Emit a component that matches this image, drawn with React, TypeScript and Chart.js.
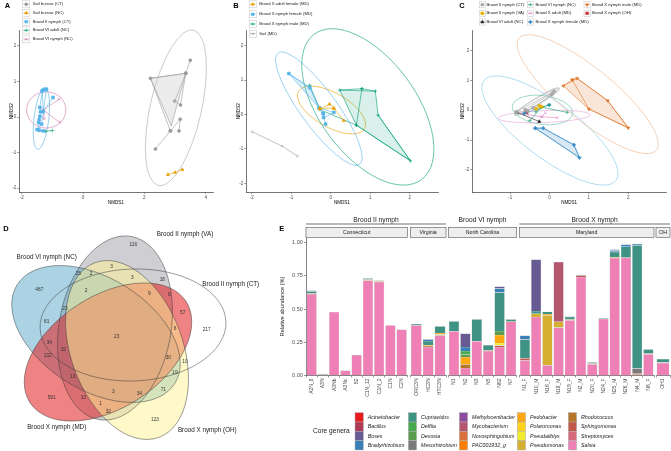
import React, { useEffect, useRef } from "react";
import { Chart, registerables } from "chart.js";
import { drawPoint } from "chart.js/helpers";

Chart.register(...registerables);

type P = [number, number];
const FONT = "'Liberation Sans', Arial, Helvetica, sans-serif";
const fnt = (size: number, style = "") => `${style ? style + " " : ""}${size}px ${FONT}`;
Chart.defaults.font.family = FONT;

// ================= Panel A data (NMDS) =================
const A_SOIL_CT: P[][] = [
  [[2.36, -0.9], [2.85, -0.39], [3.17, -0.06], [3.13, -0.39]],
  [[2.85, -0.39], [2.2, 1.09], [3.35, 1.23], [3.5, 1.6]],
  [[3.35, 1.23], [2.99, 0.45], [3.18, 0.34], [3.35, 1.23]],
];
const A_SOIL_CT_HULL: P[] = [[2.2, 1.09], [3.35, 1.23], [2.88, -0.25]];
const A_SOIL_CT_ELL = [3.03, 0.26, 2.26, 0.83, 74.8];
const A_SOIL_NC: P[][] = [[[2.77, -1.62], [3.0, -1.56], [3.24, -1.48]]];
const A_BII_CT: P[][] = [
  [[-1.27, 0.78], [-1.2, 0.78], [-1.33, 0.74], [-1.3, 0.15], [-0.98, 0.55]],
  [[-1.33, 0.74], [-1.41, 0.27], [-1.39, 0.15], [-1.41, 0.02], [-1.43, -0.08], [-1.45, -0.16], [-1.43, -0.37], [-1.3, -0.39]],
  [[-1.2, 0.78], [-1.35, -0.2], [-1.5, -0.35]],
];
const A_BII_CT_ELL = [-1.36, -0.05, 0.87, 0.24, 82];
const A_BVI_ADULT: P[][] = [[[-1.45, -0.38], [-1.22, -0.4], [-1.0, -0.38]]];
const A_BVI_NYMPH: P[][] = [
  [[-0.78, 0.5], [-1.3, 0.2], [-0.76, -0.15]],
  [[-1.3, 0.2], [-1.27, -0.05]],
];
const A_BVI_NYMPH_ELL = [-1.2, 0.2, 0.64, 0.51, 0];

// ================= Panel B data =================
const B_ADULT_F: P[][] = [
  [[-0.28, 0.16], [-0.03, 0.3], [0.08, 0.18], [0.33, -0.18]],
  [[0.08, 0.18], [-0.28, 0.18]],
];
const B_ADULT_F_ELL = [0.02, 0.13, 1.0, 0.48, -35];
const B_NYMPH_F: P[][] = [
  [[-1.06, 1.19], [-0.53, 0.78], [-0.29, 0.19], [-0.19, 0.03], [-0.13, -0.28]],
  [[-0.19, 0.03], [-0.18, -0.09], [0.08, 0.06], [-0.29, 0.19]],
];
const B_NYMPH_F_HULL: P[] = [[-1.06, 1.19], [-0.53, 0.78], [-0.29, 0.19]];
const B_NYMPH_F_ELL = [-0.3, 0.17, 1.92, 0.48, -58];
const B_NYMPH_M: P[][] = [
  [[0.23, 0.71], [0.79, 0.75], [1.13, 0.68]],
  [[0.79, 0.75], [0.65, -0.31], [2.02, -1.35], [1.2, -0.02]],
  [[-0.53, 0.85], [-0.27, 0.14], [0.65, -0.31]],
];
const B_NYMPH_M_HULL: P[] = [[0.23, 0.71], [1.13, 0.68], [1.2, -0.02], [2.02, -1.35], [0.65, -0.31]];
const B_NYMPH_M_ELL = [0.94, 0.22, 2.52, 1.27, -60];
const B_SOIL: P[][] = [[[-1.99, -0.5], [-1.23, -0.92], [-0.84, -1.21]]];

// ================= Panel C data =================
const C_BII_CT: P[][] = [
  [[-0.85, -0.06], [0.12, 0.64]],
  [[-0.62, 0.02], [0.08, 0.58]],
  [[-0.42, 0.08], [0.05, 0.52]],
  [[-0.85, -0.06], [-0.55, -0.02]],
];
const C_BII_CT_ELL = [-0.32, 0.29, 0.72, 0.1, 38.5];
const C_BII_VA: P[][] = [[[-0.34, 0.05], [-0.26, 0.15], [-0.2, 0.12]]];
const C_BVI_ADULT: P[][] = [[[-0.83, -0.07], [-0.26, -0.38]]];
const C_BVI_NYMPH: P[][] = [
  [[-0.5, -0.35], [-0.2, 0.1], [0.0, 0.18]],
  [[-0.2, 0.1], [0.45, -0.07]],
  [[-0.2, 0.1], [-0.35, -0.05]],
];
const C_BVI_NYMPH_ELL = [-0.18, 0.01, 0.78, 0.48, -12];
const C_BX_ADULT: P[][] = [
  [[-0.55, -0.15], [-0.2, -0.22], [0.2, -0.25]],
  [[-0.2, -0.22], [-0.1, -0.08]],
];
const C_BX_ADULT_ELL = [-0.13, -0.21, 1.17, 0.2, 3];
const C_BX_NYMPH_F: P[][] = [
  [[-0.64, -0.11], [-0.01, 0.18]],
  [[-0.36, -0.6], [-0.16, -0.6], [0.62, -1.16], [0.76, -1.59], [-0.36, -0.6]],
];
const C_BX_NYMPH_F_HULL: P[] = [[-0.36, -0.6], [-0.16, -0.6], [0.62, -1.16], [0.76, -1.59]];
const C_BX_NYMPH_F_ELL = [0.01, -0.68, 2.38, 0.82, -47];
const C_BX_NYMPH_M: P[][] = [
  [[0.35, 0.82], [0.58, 1.02], [0.7, 1.07], [1.48, 0.32], [2.0, -0.59], [1.0, 0.04], [0.58, 1.02]],
];
const C_BX_NYMPH_M_HULL: P[] = [[0.35, 0.82], [0.7, 1.07], [1.48, 0.32], [2.0, -0.59], [1.0, 0.04]];
const C_BX_NYMPH_M_ELL = [0.97, 0.54, 2.57, 0.76, -48.6];
const C_BX_OH: P[][] = [[[-0.58, -0.08]]];

// ================= Panel D data (Venn) =================
const VENN_SETS = ["Brood II nymph (CT)", "Brood II nymph (VA)", "Brood VI nymph (NC)", "Brood X nymph (MD)", "Brood X nymph (OH)"];
const VENN_COUNTS = [116, 487, 25, 2, 3, 3, 18, 2, 9, 8, 57, 217, 23, 81, 23, 6, 34, 32, 132, 30, 10, 19, 13, 71, 591, 13, 3, 34, 1, 32, 123];

// ================= Panel E data =================
const SAMPLES = ["A2N_8", "A3N", "A3Nb", "A3Nc", "B2", "C1N_12", "C1N_2", "C1N", "C2N", "ORC3N", "HC3N", "HTC3N", "N1", "N2", "N3", "N5", "N62", "N7", "N1_F", "N10_M", "N16_F", "N18_M", "N19_F", "N2_M", "N20_F", "N24_F", "N25_M", "N26_M", "N4_M", "N6_F", "OH1"];
const FACET_NAMES = ["Connecticut", "Virginia", "North Carolina", "Maryland", "OH"];
const FACET_SIZES = [9, 3, 6, 12, 1];
const BROOD_NAMES = ["Brood II nymph", "Brood VI nymph", "Brood X nymph"];
const BROOD_FACETS = [[0, 1], [2], [3, 4]];
const GENERA = ["Acinetobacter", "Bacillus", "Boses", "Bradyrhizobium", "Cupriavidus", "Delftia", "Devosia", "Mesorhizobium", "Methylocenibacter", "Mycobacterium", "Novosphingobium", "PAC001932_g", "Pedobacter", "Polaromonas", "Pseudaliblys", "Pseudomonas", "Rhodococcus", "Sphingomonas", "Streptomyces", "Salsia"];

const ACINETOBACTER = [0, 0, 0, 0, 0, 0, 0, 0, 0, 0, 0, 0, 0, 0, 0, 0, 0, 0, 0, 0, 0, 0, 0, 0, 0, 0, 0, 0, 0, 0, 0];
const BACILLUS = [0, 0, 0, 0, 0, 0, 0, 0, 0, 0, 0, 0, 0, 0, 0, 0, 0, 0, 0, 0, 0, 0, 0, 0, 0, 0, 0, 0, 0, 0, 0];
const BOSES = [0, 0, 0, 0, 0, 0, 0, 0, 0, 0, 0, 0, 0, 0.1, 0, 0, 0.015, 0, 0, 0.387, 0, 0, 0, 0, 0, 0, 0.006, 0, 0, 0, 0];
const BRADYRHIZOBIUM = [0.005, 0, 0, 0, 0, 0, 0, 0, 0, 0, 0.012, 0.005, 0, 0.03, 0, 0, 0.03, 0, 0.03, 0, 0, 0, 0.004, 0, 0.003, 0, 0.012, 0.017, 0.01, 0, 0];
const CUPRIAVIDUS = [0.016, 0, 0, 0, 0, 0.01, 0.004, 0, 0, 0.01, 0.03, 0.05, 0.075, 0, 0.165, 0.04, 0.29, 0.012, 0.14, 0.02, 0.017, 0, 0.018, 0.004, 0.008, 0.006, 0.04, 0.078, 0.927, 0.031, 0.026];
const DELFTIA = [0, 0, 0, 0, 0, 0, 0, 0, 0, 0, 0, 0, 0, 0.025, 0, 0, 0, 0, 0, 0, 0, 0, 0, 0, 0, 0, 0, 0, 0, 0, 0];
const DEVOSIA = [0, 0.006, 0, 0, 0, 0, 0, 0, 0, 0, 0, 0, 0, 0.02, 0, 0, 0.03, 0.005, 0, 0, 0, 0, 0, 0, 0, 0, 0, 0, 0, 0, 0.004];
const MESORHIZOBIUM = [0, 0, 0, 0, 0, 0, 0, 0, 0, 0, 0, 0, 0, 0, 0, 0, 0, 0, 0, 0, 0, 0, 0, 0, 0, 0, 0, 0.006, 0.04, 0, 0];
const METHYLOCENIBACTER = [0, 0, 0, 0, 0, 0, 0, 0, 0, 0, 0, 0, 0, 0, 0, 0, 0, 0, 0, 0, 0, 0, 0, 0, 0, 0, 0, 0, 0, 0, 0];
const MYCOBACTERIUM = [0, 0, 0, 0, 0, 0, 0, 0, 0, 0, 0, 0, 0, 0, 0, 0, 0, 0, 0, 0, 0, 0.45, 0, 0, 0, 0, 0, 0, 0, 0, 0];
const NOVOSPHINGOBIUM = [0, 0, 0, 0, 0, 0, 0, 0, 0, 0, 0, 0, 0, 0, 0, 0, 0, 0, 0, 0, 0, 0, 0, 0, 0, 0, 0, 0, 0.008, 0, 0];
const PAC001932 = [0, 0, 0, 0, 0, 0, 0, 0, 0, 0, 0, 0, 0, 0, 0, 0, 0, 0, 0, 0, 0, 0, 0, 0, 0, 0, 0, 0, 0, 0, 0];
const PEDOBACTER = [0, 0, 0, 0, 0, 0, 0.005, 0, 0, 0, 0.007, 0.012, 0, 0.055, 0, 0, 0.06, 0, 0, 0, 0.01, 0, 0, 0, 0, 0, 0, 0, 0, 0, 0];
const POLAROMONAS = [0, 0, 0, 0, 0, 0, 0, 0, 0, 0, 0, 0, 0, 0, 0, 0, 0, 0, 0, 0, 0, 0, 0, 0, 0, 0, 0, 0, 0, 0, 0];
const PSEUDALIBLYS = [0, 0, 0, 0, 0, 0, 0, 0, 0, 0, 0, 0, 0, 0, 0, 0, 0.02, 0, 0, 0, 0, 0, 0, 0, 0, 0, 0, 0, 0, 0, 0];
const PSEUDOMONAS = [0.006, 0, 0, 0, 0, 0.006, 0, 0, 0, 0, 0, 0, 0, 0, 0, 0.004, 0, 0, 0, 0.025, 0.375, 0.045, 0.006, 0, 0, 0, 0.006, 0, 0, 0, 0];
const RHODOCOCCUS = [0, 0, 0, 0, 0, 0, 0.004, 0, 0, 0, 0.008, 0.008, 0, 0.028, 0, 0, 0, 0, 0, 0, 0, 0, 0, 0, 0, 0, 0, 0, 0, 0, 0];
const SPHINGOMONAS = [0, 0, 0, 0, 0, 0, 0, 0, 0, 0, 0, 0, 0, 0, 0, 0, 0.01, 0, 0.015, 0, 0, 0, 0, 0.012, 0.008, 0, 0, 0, 0, 0.006, 0];
const STREPTOMYCES = [0, 0, 0, 0, 0, 0, 0, 0, 0, 0, 0, 0, 0, 0, 0, 0, 0, 0, 0, 0, 0, 0, 0, 0, 0, 0, 0, 0, 0, 0, 0];
const SALSIA = [0.612, 0.005, 0.478, 0.037, 0.155, 0.715, 0.703, 0.378, 0.345, 0.378, 0.215, 0.3, 0.333, 0.057, 0.258, 0.185, 0.215, 0.405, 0.115, 0.44, 0.078, 0.36, 0.416, 0.741, 0.083, 0.425, 0.884, 0.884, 0.005, 0.16, 0.095];

const GENUS_VALUES = [ACINETOBACTER, BACILLUS, BOSES, BRADYRHIZOBIUM, CUPRIAVIDUS, DELFTIA, DEVOSIA, MESORHIZOBIUM, METHYLOCENIBACTER, MYCOBACTERIUM, NOVOSPHINGOBIUM, PAC001932, PEDOBACTER, POLAROMONAS, PSEUDALIBLYS, PSEUDOMONAS, RHODOCOCCUS, SPHINGOMONAS, STREPTOMYCES, SALSIA];

// ================= styles & layout =================
const GENUS_COLORS = ["#E41A1C", "#AE3A55", "#685A92", "#3A80B8", "#3F9384", "#47A94B", "#5B9B4E", "#7A7A7A", "#8E4C9C", "#B5566F", "#D9703C", "#FF7F00", "#FFA812", "#FFD21C", "#F2EC30", "#D5B030", "#B57628", "#C0594A", "#D8687C", "#EE80B5"];

const A_GROUPS = [
  { label: "Soil burrow (CT)", color: "#999999", shape: "circle", r: 1.5, paths: A_SOIL_CT, hull: A_SOIL_CT_HULL, hullFill: "rgba(200,200,200,0.35)", ell: A_SOIL_CT_ELL, ellColor: "#a8a8a8" },
  { label: "Soil burrow (NC)", color: "#E69F00", shape: "triangle", r: 1.8, paths: A_SOIL_NC },
  { label: "Brood II nymph (CT)", color: "#56B4E9", shape: "rect", r: 2, paths: A_BII_CT, ell: A_BII_CT_ELL, ellColor: "#56B4E9" },
  { label: "Brood VI adult (NC)", color: "#009E73", shape: "cross", r: 1.8, paths: A_BVI_ADULT },
  { label: "Brood VI nymph (NC)", color: "#CC79A7", shape: "crossRot", r: 1.8, paths: A_BVI_NYMPH, ell: A_BVI_NYMPH_ELL, ellColor: "#CC79A7" },
];
const B_GROUPS = [
  { label: "Brood X adult female (MD)", color: "#E69F00", shape: "triangle", r: 1.8, paths: B_ADULT_F, ell: B_ADULT_F_ELL, ellColor: "#E69F00" },
  { label: "Brood X nymph female (MD)", color: "#56B4E9", shape: "rect", r: 2, paths: B_NYMPH_F, hull: B_NYMPH_F_HULL, hullFill: "rgba(86,180,233,0.22)", ell: B_NYMPH_F_ELL, ellColor: "#56B4E9" },
  { label: "Brood X nymph male (MD)", color: "#009E73", shape: "cross", r: 1.8, paths: B_NYMPH_M, hull: B_NYMPH_M_HULL, hullFill: "rgba(0,158,115,0.15)", ell: B_NYMPH_M_ELL, ellColor: "#009E73" },
  { label: "Soil (MD)", color: "#999999", shape: "crossRot", r: 1.6, paths: B_SOIL },
];
const C_GROUPS = [
  { label: "Brood II nymph (CT)", color: "#A8A8A8", shape: "rect", r: 1.8, paths: C_BII_CT, ell: C_BII_CT_ELL, ellColor: "#cccccc", ellWidth: 1.4 },
  { label: "Brood II nymph (VA)", color: "#E6B400", shape: "circle", r: 1.6, paths: C_BII_VA },
  { label: "Brood VI adult (NC)", color: "#222222", shape: "triangle", r: 1.8, paths: C_BVI_ADULT },
  { label: "Brood VI nymph (NC)", color: "#1B9E77", shape: "cross", r: 1.8, paths: C_BVI_NYMPH, ell: C_BVI_NYMPH_ELL, ellColor: "#5cbf9c" },
  { label: "Brood X adult (MD)", color: "#E07CC6", shape: "crossRot", r: 1.8, paths: C_BX_ADULT, ell: C_BX_ADULT_ELL, ellColor: "#E8A2D8" },
  { label: "Brood X nymph female (MD)", color: "#3A8DCA", shape: "rectRot", r: 1.8, paths: C_BX_NYMPH_F, hull: C_BX_NYMPH_F_HULL, hullFill: "rgba(58,141,202,0.2)", ell: C_BX_NYMPH_F_ELL, ellColor: "#7EC2E6" },
  { label: "Brood X nymph male (MD)", color: "#E0772C", shape: "triangle", rot: 180, r: 1.8, paths: C_BX_NYMPH_M, hull: C_BX_NYMPH_M_HULL, hullFill: "rgba(224,119,44,0.18)", ell: C_BX_NYMPH_M_ELL, ellColor: "#F0B285" },
  { label: "Brood X nymph (OH)", color: "#C43A3A", shape: "rect", r: 1.8, paths: C_BX_OH },
];

const PANEL_A = {
  box: [0, 0, 225, 215], area: [19, 30, 213, 192], xr: [-2.09, 4.24], yr: [-2.11, 2.45],
  xticks: [-2, 0, 2, 4], yticks: [-2, -1, 0, 1, 2], yTitleX: 12, xTitleY: 203,
  groups: A_GROUPS, letter: ["A", 4.7, 6],
  legend: { cols: [{ keyX: 22.7, textX: 32.7, items: [0, 1, 2, 3, 4] }], rows: [4.3, 13, 21.7, 30.3, 39.3], key: 7 },
};
const PANEL_B = {
  box: [220, 0, 225, 215], area: [246, 30, 438, 192], xr: [-2.144, 2.716], yr: [-2.253, 2.456],
  xticks: [-2, -1, 0, 1, 2], yticks: [-2, -1, 0, 1, 2], yTitleX: 239, xTitleY: 202.5,
  groups: B_GROUPS, letter: ["B", 233.3, 5.5],
  legend: { cols: [{ keyX: 249.3, textX: 259.3, items: [0, 1, 2, 3] }], rows: [4.3, 14.3, 24, 33.7], key: 7 },
};
const PANEL_C = {
  box: [440, 0, 231, 215], area: [472, 30, 669, 192.3], xr: [-1.97, 2.97], yr: [-2.75, 2.69],
  xticks: [-1, 0, 1, 2], yticks: [-2, -1, 0, 1, 2], yTitleX: 462.7, xTitleY: 202.3,
  groups: C_GROUPS, letter: ["C", 459.3, 6],
  legend: {
    cols: [
      { keyX: 479.3, textX: 486.5, items: [0, 1, 2] },
      { keyX: 527.3, textX: 535.5, items: [3, 4, 5] },
      { keyX: 584, textX: 592, items: [6, 7] },
    ], rows: [4.7, 13.3, 22], key: 6.2,
  },
};

// Venn layout (page coordinates): centre x, centre y, semi-major, semi-minor, rotation
const VENN_ELLIPSES = [
  [133, 325, 93, 56, -2],
  [115, 328, 93, 56, -80],
  [96, 334, 93, 56, -148],
  [108, 352, 93, 56, 147],
  [127, 350, 93, 56, 70],
];
const VENN_FILLS = ["rgba(255,255,255,0)", "rgba(160,160,168,0.5)", "rgba(87,167,199,0.5)", "rgba(227,40,40,0.58)", "rgba(255,243,150,0.5)"];
const VENN_COUNT_POS = [[133.3, 245], [39.3, 290], [78.3, 273.3], [91, 274], [111.7, 266.7], [132.3, 277.3], [162.3, 280], [86, 290.7], [149.3, 293.3], [169.3, 294.3], [182.7, 312.7], [206.7, 330], [65, 308.3], [46.7, 321.7], [116.7, 336.7], [175, 328.3], [49.3, 342.3], [63.3, 350], [47.7, 356], [168.3, 357.7], [185, 361.7], [175, 372.3], [72.7, 376.7], [163.3, 389.3], [51.7, 397.7], [83.3, 397.7], [113.3, 391.7], [139.3, 393.3], [100.7, 404], [108.3, 411.7], [155, 420]];
const VENN_LABEL_POS = [[230.7, 284], [185, 234], [46.7, 257.7], [56.7, 427.7], [207.3, 430.7]];

const FACET_X = [[306, 407.3], [410.3, 446], [448.3, 516.7], [519.3, 654], [656, 670]];
const E_TOP = 237.5, E_BOTTOM = 375.5, E_YMAX = 1.0376;

// ================= helpers =================
function drawKey(ctx: CanvasRenderingContext2D, x: number, y: number, k: number, g: any) {
  ctx.save();
  ctx.strokeStyle = "#c4c4c4"; ctx.lineWidth = 0.5;
  ctx.strokeRect(x, y, k, k);
  ctx.strokeStyle = g.color; ctx.lineWidth = 0.6;
  ctx.beginPath(); ctx.moveTo(x + 0.7, y + k / 2); ctx.lineTo(x + k - 0.7, y + k / 2); ctx.stroke();
  ctx.fillStyle = g.color;
  drawPoint(ctx, { pointStyle: g.shape, rotation: g.rot || 0, radius: Math.min(g.r, 1.8), borderWidth: 0.6 } as any, x + k / 2, y + k / 2);
  ctx.restore();
}

function ellipsePath(chart: any, e: number[]) {
  const ctx = chart.ctx;
  const xs = chart.scales.x, ys = chart.scales.y;
  const x0 = xs.getPixelForValue(0), y0 = ys.getPixelForValue(0);
  const kx = xs.getPixelForValue(1) - x0, ky = ys.getPixelForValue(1) - y0;
  ctx.save();
  ctx.translate(x0, y0); ctx.scale(kx, ky);
  ctx.beginPath();
  ctx.ellipse(e[0], e[1], e[2], e[3], (e[4] * Math.PI) / 180, 0, Math.PI * 2);
  ctx.restore();
}

const toXY = (p: P) => ({ x: p[0], y: p[1] });

function scatterConfig(spec: any) {
  const [bx, by, bw, bh] = spec.box;
  const [al, at, ar, ab] = spec.area;
  const datasets: any[] = [];
  spec.groups.forEach((g: any) => {
    if (g.hull) {
      datasets.push({
        data: [...g.hull, g.hull[0]].map(toXY), showLine: true, fill: "shape",
        backgroundColor: g.hullFill, borderColor: g.color, borderWidth: 0.6, pointRadius: 0,
      });
    }
    g.paths.forEach((path: P[]) => {
      datasets.push({
        data: path.map(toXY), showLine: true, fill: false, borderColor: g.color, borderWidth: 0.6,
        pointStyle: g.shape, rotation: g.rot || 0, pointRadius: g.r,
        pointBackgroundColor: g.color, pointBorderColor: g.color, pointBorderWidth: 0.6,
      });
    });
  });
  const axisCommon = {
    grid: { display: true, drawOnChartArea: false, drawTicks: true, tickLength: 1.8, color: "#333", lineWidth: 0.5 },
    border: { display: true, color: "#1a1a1a", width: 0.6 },
  };
  const plugin = {
    id: "deco",
    beforeDatasetsDraw(chart: any) {
      const ctx = chart.ctx;
      spec.groups.forEach((g: any) => {
        if (!g.ell) return;
        ellipsePath(chart, g.ell);
        ctx.save(); ctx.strokeStyle = g.ellColor; ctx.lineWidth = g.ellWidth || 0.6; ctx.stroke(); ctx.restore();
      });
    },
    afterDraw(chart: any) {
      const ctx = chart.ctx;
      ctx.save();
      ctx.textBaseline = "middle";
      ctx.fillStyle = "#000"; ctx.font = fnt(7.5, "bold");
      ctx.fillText(spec.letter[0], spec.letter[1] - bx, spec.letter[2] - by);
      const lg = spec.legend;
      ctx.font = fnt(4.2);
      lg.cols.forEach((c: any) => {
        c.items.forEach((gi: number, ri: number) => {
          const g = spec.groups[gi];
          drawKey(ctx, c.keyX - bx, lg.rows[ri] - by - lg.key / 2, lg.key, g);
          ctx.fillStyle = "#1a1a1a";
          ctx.fillText(g.label, c.textX - bx, lg.rows[ri] - by);
        });
      });
      ctx.restore();
    },
  };
  return {
    type: "scatter",
    data: { datasets },
    options: {
      animation: false, responsive: false, events: [],
      layout: { padding: { left: 0, top: at - by, right: bx + bw - ar, bottom: 0 } },
      plugins: { legend: { display: false }, tooltip: { enabled: false } },
      scales: {
        x: {
          type: "linear", min: spec.xr[0], max: spec.xr[1], ...axisCommon,
          afterBuildTicks: (s: any) => { s.ticks = spec.xticks.map((v: number) => ({ value: v })); },
          afterFit: (s: any) => { s.height = by + bh - ab; },
          ticks: { font: { size: 4.5 }, color: "#4d4d4d", padding: 1, maxRotation: 0, callback: (v: any) => String(v) },
          title: { display: true, text: "NMDS1", font: { size: 4.5 }, color: "#000", padding: { top: 0, bottom: by + bh - spec.xTitleY - 2.7 } },
        },
        y: {
          type: "linear", min: spec.yr[0], max: spec.yr[1], ...axisCommon,
          afterBuildTicks: (s: any) => { s.ticks = spec.yticks.map((v: number) => ({ value: v })); },
          afterFit: (s: any) => { s.width = al - bx; },
          ticks: { font: { size: 4.5 }, color: "#4d4d4d", padding: 1, callback: (v: any) => String(v) },
          title: { display: true, text: "NMDS2", font: { size: 4.5 }, color: "#000", padding: { top: spec.yTitleX - bx - 2.7, bottom: 0 } },
        },
      },
    },
    plugins: [plugin],
  };
}

function vennConfig() {
  const box = [0, 215, 270, 236];
  const plugin = {
    id: "venn",
    afterDraw(chart: any) {
      const ctx = chart.ctx;
      VENN_ELLIPSES.forEach((e, i) => {
        ellipsePath(chart, e);
        ctx.save(); ctx.fillStyle = VENN_FILLS[i]; ctx.fill(); ctx.restore();
      });
      VENN_ELLIPSES.forEach((e) => {
        ellipsePath(chart, e);
        ctx.save(); ctx.strokeStyle = "#3a3a3a"; ctx.lineWidth = 0.5; ctx.stroke(); ctx.restore();
      });
      const xs = chart.scales.x, ys = chart.scales.y;
      ctx.save();
      ctx.textAlign = "center"; ctx.textBaseline = "middle";
      ctx.fillStyle = "#333"; ctx.font = fnt(4.8);
      VENN_COUNTS.forEach((n, i) => {
        ctx.fillText(String(n), xs.getPixelForValue(VENN_COUNT_POS[i][0]), ys.getPixelForValue(VENN_COUNT_POS[i][1]));
      });
      ctx.fillStyle = "#1a1a1a"; ctx.font = fnt(6.3);
      VENN_SETS.forEach((s, i) => {
        ctx.fillText(s, xs.getPixelForValue(VENN_LABEL_POS[i][0]), ys.getPixelForValue(VENN_LABEL_POS[i][1]));
      });
      ctx.textAlign = "left";
      ctx.fillStyle = "#000"; ctx.font = fnt(7.5, "bold");
      ctx.fillText("D", 3.3 - box[0], 229 - box[1]);
      ctx.restore();
    },
  };
  return {
    box,
    config: {
      type: "scatter",
      data: { datasets: [] },
      options: {
        animation: false, responsive: false, events: [],
        layout: { padding: 0 },
        plugins: { legend: { display: false }, tooltip: { enabled: false } },
        scales: {
          x: { type: "linear", min: box[0], max: box[0] + box[2], display: false },
          y: { type: "linear", min: box[1], max: box[1] + box[3], reverse: true, display: false },
        },
      },
      plugins: [plugin],
    },
  };
}

function facetConfig(fi: number) {
  const [L, R] = FACET_X[fi];
  const start = FACET_SIZES.slice(0, fi).reduce((a, b) => a + b, 0);
  const end = start + FACET_SIZES[fi];
  let box: number[];
  if (fi === 0) box = [270, 215, 401, 236];
  else {
    const left = Math.floor(L) - 3;
    const right = Math.min(671, Math.ceil(R) + 3);
    box = [left, 215, right - left, 236];
  }
  const [bx, by, bw, bh] = box;
  const yW = fi === 0 ? L - bx : 0;
  const padL = fi === 0 ? 0 : L - bx;
  const padR = bx + bw - R;
  const order = GENERA.map((_, i) => i).reverse();
  const datasets = order.map((gi) => ({
    label: GENERA[gi],
    data: GENUS_VALUES[gi].slice(start, end).map((v) => (v > 0 ? v : null)),
    backgroundColor: GENUS_COLORS[gi],
    borderColor: "#9a9a9a",
    borderWidth: 0.35,
    barPercentage: 0.9,
    categoryPercentage: 1,
  }));
  const plugin = {
    id: "facet",
    afterDraw(chart: any) {
      const ctx = chart.ctx;
      const { left, right, top } = chart.chartArea;
      ctx.save();
      ctx.fillStyle = "#eeeeee";
      ctx.fillRect(left, top - 10.2, right - left, 10);
      ctx.strokeStyle = "#555"; ctx.lineWidth = 0.6;
      ctx.strokeRect(left, top - 10.2, right - left, 10);
      ctx.fillStyle = "#1a1a1a"; ctx.font = fnt(5.2);
      ctx.textAlign = "center"; ctx.textBaseline = "middle";
      ctx.fillText(FACET_NAMES[fi], (left + right) / 2, top - 5.2);
      if (fi === 0) {
        // nested brood headers
        ctx.font = fnt(6.7);
        BROOD_NAMES.forEach((b, bi) => {
          const fs = BROOD_FACETS[bi];
          const x1 = FACET_X[fs[0]][0] - bx, x2 = FACET_X[fs[fs.length - 1]][1] - bx;
          ctx.fillText(b, (x1 + x2) / 2, 219.7 - by);
          if (fs.length > 1) {
            ctx.strokeStyle = "#333"; ctx.lineWidth = 0.7;
            ctx.beginPath(); ctx.moveTo(x1, 224 - by); ctx.lineTo(x2, 224 - by); ctx.stroke();
          }
        });
        // panel letter
        ctx.textAlign = "left";
        ctx.fillStyle = "#000"; ctx.font = fnt(7.5, "bold");
        ctx.fillText("E", 279.3 - bx, 229 - by);
        // legend
        ctx.fillStyle = "#1a1a1a"; ctx.font = fnt(6.6);
        ctx.fillText("Core genera", 313 - bx, 430.7 - by);
        const keyX = [355, 408.3, 459.3, 517.3, 568.3];
        const rowTop = [412.7, 422, 431.3, 440.7];
        ctx.font = fnt(5.3, "italic");
        GENERA.forEach((g, gi) => {
          const c = Math.floor(gi / 4), r = gi % 4;
          const x = keyX[c] - bx, y = rowTop[r] - by;
          ctx.fillStyle = GENUS_COLORS[gi];
          ctx.fillRect(x, y, 8.3, 9.3);
          ctx.strokeStyle = "#b0b0b0"; ctx.lineWidth = 0.5;
          ctx.strokeRect(x, y, 8.3, 9.3);
          ctx.fillStyle = "#1a1a1a";
          ctx.fillText(g, x + 12.7, y + 4.8);
        });
      }
      ctx.restore();
    },
  };
  return {
    box,
    config: {
      type: "bar",
      data: { labels: SAMPLES.slice(start, end), datasets },
      options: {
        animation: false, responsive: false, events: [],
        layout: { padding: { left: padL, right: padR, top: E_TOP - by, bottom: 0 } },
        plugins: { legend: { display: false }, tooltip: { enabled: false } },
        scales: {
          x: {
            stacked: true,
            grid: { display: true, drawOnChartArea: false, drawTicks: true, tickLength: 2, color: "#333", lineWidth: 0.5 },
            border: { display: true, color: "#333", width: 0.6 },
            ticks: { autoSkip: false, minRotation: 90, maxRotation: 90, font: { size: 5 }, color: "#4d4d4d", padding: 1 },
            afterFit: (s: any) => { s.height = by + bh - E_BOTTOM; },
          },
          y: {
            stacked: true, min: 0, max: E_YMAX, display: fi === 0,
            afterBuildTicks: (s: any) => { s.ticks = [0, 0.25, 0.5, 0.75, 1].map((v) => ({ value: v })); },
            afterFit: (s: any) => { s.width = yW; },
            grid: { display: true, drawOnChartArea: false, drawTicks: true, tickLength: 2, color: "#333", lineWidth: 0.5 },
            border: { display: true, color: "#333", width: 0.6 },
            ticks: { font: { size: 5.5 }, color: "#4d4d4d", padding: 1.2, callback: (v: any) => Number(v).toFixed(2) },
            title: { display: true, text: "Relative abundance (%)", font: { size: 5.6 }, color: "#1a1a1a", padding: { top: 12 - 3.4, bottom: 0 } },
          },
        },
      },
      plugins: [plugin],
    },
  };
}

function ChartCanvas({ box, config }: { box: number[]; config: any }) {
  const ref = useRef<HTMLCanvasElement>(null);
  useEffect(() => {
    const chart = new Chart(ref.current as HTMLCanvasElement, config);
    return () => chart.destroy();
  }, []);
  const [l, t, w, h] = box;
  return (
    <canvas ref={ref} width={w} height={h}
      style={{ position: "absolute", left: l, top: t, width: w, height: h }} />
  );
}

export default function App() {
  const panels = [PANEL_A, PANEL_B, PANEL_C];
  const venn = vennConfig();
  const facets = FACET_NAMES.map((_, i) => facetConfig(i));
  return (
    <div style={{ position: "fixed", left: 0, top: 0, width: 671, height: 451, background: "#fff", overflow: "hidden" }}>
      {panels.map((p, i) => (
        <ChartCanvas key={"s" + i} box={p.box} config={scatterConfig(p)} />
      ))}
      <ChartCanvas box={venn.box} config={venn.config} />
      {facets.map((f, i) => (
        <ChartCanvas key={"f" + i} box={f.box} config={f.config} />
      ))}
    </div>
  );
}
